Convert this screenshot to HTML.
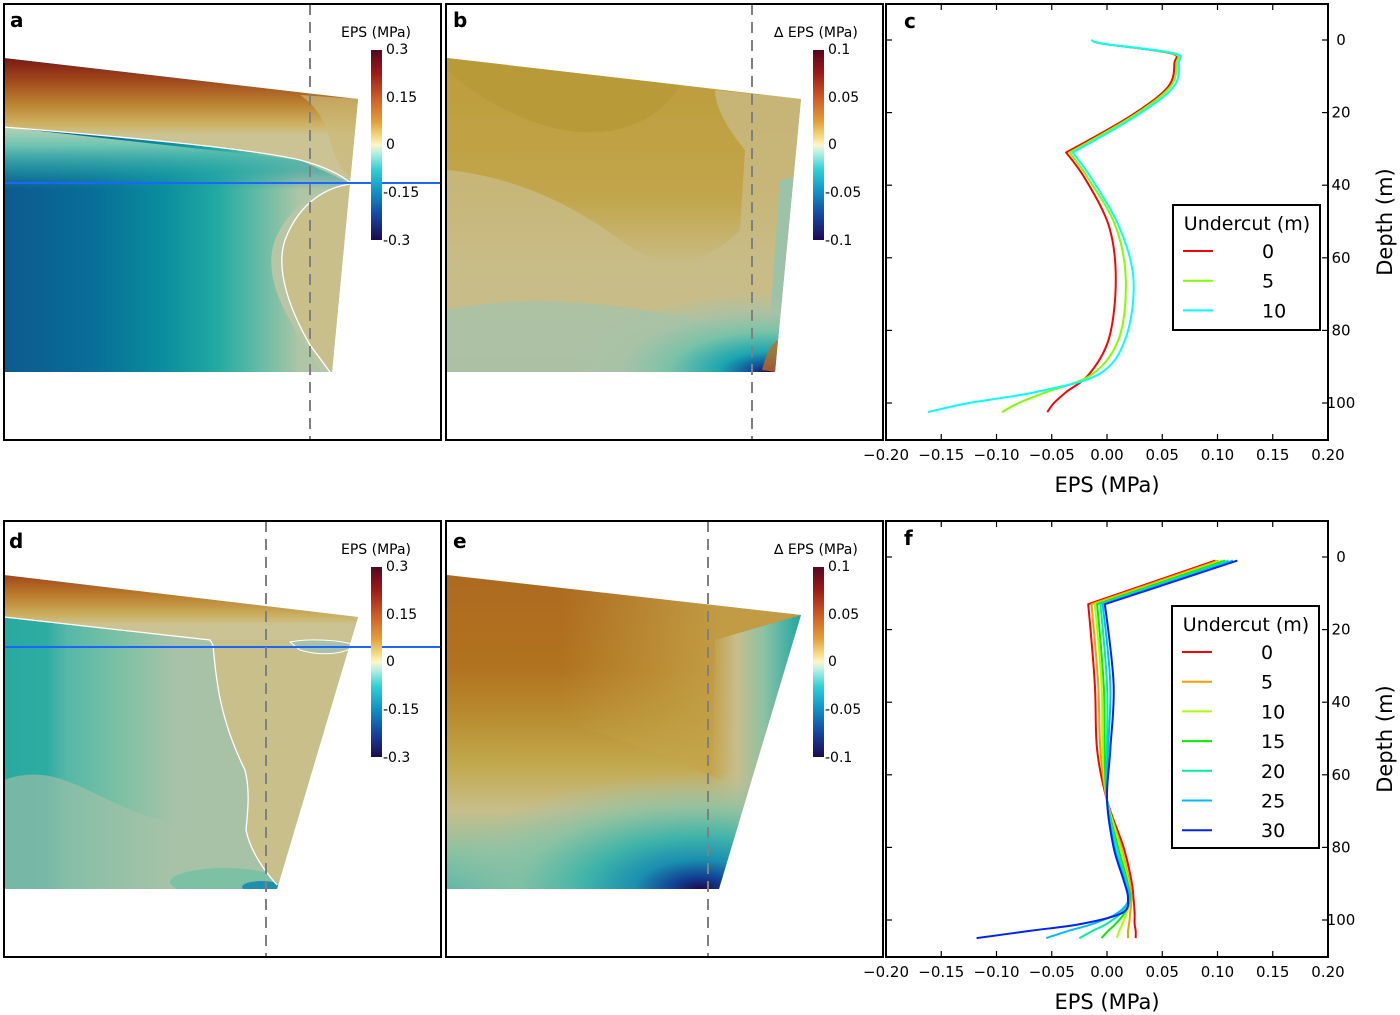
<!DOCTYPE html>
<html><head><meta charset="utf-8"><style>
html,body{margin:0;padding:0;background:#fff;}
svg{display:block;font-family:"DejaVu Sans","Liberation Sans",sans-serif;}
</style></head><body>
<svg id="fig" width="1400" height="1015" viewBox="0 0 1400 1015" xmlns="http://www.w3.org/2000/svg">
<defs>
<linearGradient id="cbar" x1="0" y1="0" x2="0" y2="1">
<stop offset="0" stop-color="#55081e"/><stop offset="0.12" stop-color="#9a1a18"/><stop offset="0.25" stop-color="#cc5a26"/><stop offset="0.38" stop-color="#e3a03a"/><stop offset="0.46" stop-color="#f6de86"/><stop offset="0.5" stop-color="#fdf6c8"/><stop offset="0.54" stop-color="#b6f2e2"/><stop offset="0.63" stop-color="#2ed0d4"/><stop offset="0.75" stop-color="#1090c4"/><stop offset="0.87" stop-color="#1446a0"/><stop offset="1" stop-color="#1c0a50"/>
</linearGradient>
<linearGradient id="aTop" x1="0" y1="58" x2="0" y2="135" gradientUnits="userSpaceOnUse">
<stop offset="0" stop-color="#7a1812"/><stop offset="0.3" stop-color="#a24a1c"/><stop offset="0.6" stop-color="#bb8430"/><stop offset="0.85" stop-color="#cdb061"/><stop offset="1" stop-color="#cbc393"/>
</linearGradient>
<linearGradient id="aLow" x1="4" y1="0" x2="300" y2="0" gradientUnits="userSpaceOnUse">
<stop offset="0" stop-color="#0d5a8e"/><stop offset="0.3" stop-color="#086e98"/><stop offset="0.55" stop-color="#0a8f9e"/><stop offset="0.72" stop-color="#22aaa2"/><stop offset="0.85" stop-color="#5cbba6"/><stop offset="1" stop-color="#aec6a6"/>
</linearGradient>
<linearGradient id="aBand" x1="0" y1="127" x2="0" y2="190" gradientUnits="userSpaceOnUse">
<stop offset="0" stop-color="#b7d2b4"/><stop offset="0.3" stop-color="#6cc4b2"/><stop offset="0.7" stop-color="#28a4a6" stop-opacity="0.6"/><stop offset="1" stop-color="#1c8ca4" stop-opacity="0"/>
</linearGradient>
<linearGradient id="dTop" x1="0" y1="575" x2="0" y2="625" gradientUnits="userSpaceOnUse">
<stop offset="0" stop-color="#a4461a"/><stop offset="0.4" stop-color="#bb7d2c"/><stop offset="0.8" stop-color="#cbaf60"/><stop offset="1" stop-color="#cbc393"/>
</linearGradient>
<linearGradient id="dLow" x1="4" y1="0" x2="215" y2="0" gradientUnits="userSpaceOnUse">
<stop offset="0" stop-color="#28aaa0"/><stop offset="0.2" stop-color="#2eaca2"/><stop offset="0.3" stop-color="#56b8a8"/><stop offset="0.55" stop-color="#7cc1a4"/><stop offset="0.8" stop-color="#a6c2a8"/><stop offset="1" stop-color="#a8c2a8"/>
</linearGradient>
<linearGradient id="bBase" x1="0" y1="58" x2="0" y2="372" gradientUnits="userSpaceOnUse">
<stop offset="0" stop-color="#bd9c3a"/><stop offset="0.45" stop-color="#c2a64c"/><stop offset="0.65" stop-color="#c8bb82"/><stop offset="0.85" stop-color="#c6c08e"/><stop offset="1" stop-color="#b4c2a0"/>
</linearGradient>
<radialGradient id="bBlob" cx="770" cy="372" r="200" gradientUnits="userSpaceOnUse" gradientTransform="translate(770 372) scale(1 0.4) translate(-770 -372)">
<stop offset="0" stop-color="#1a0a55"/><stop offset="0.1" stop-color="#10509a"/><stop offset="0.25" stop-color="#1aa6b0"/><stop offset="0.5" stop-color="#78c2a8"/><stop offset="0.75" stop-color="#a6c2a8" stop-opacity="0.8"/><stop offset="1" stop-color="#a6c2a8" stop-opacity="0"/>
</radialGradient>
<linearGradient id="eBase" x1="0" y1="575" x2="0" y2="889" gradientUnits="userSpaceOnUse">
<stop offset="0" stop-color="#ad6a20"/><stop offset="0.3" stop-color="#b1731f"/><stop offset="0.45" stop-color="#b88c30"/><stop offset="0.6" stop-color="#c2a84c"/><stop offset="0.75" stop-color="#c8be8a"/><stop offset="0.88" stop-color="#8cc2a2"/><stop offset="1" stop-color="#58b8a8"/>
</linearGradient>
<linearGradient id="eLight" x1="560" y1="0" x2="720" y2="0" gradientUnits="userSpaceOnUse">
<stop offset="0" stop-color="#c4a44a" stop-opacity="0"/><stop offset="1" stop-color="#c4a44a" stop-opacity="0.85"/>
</linearGradient>
<linearGradient id="eRight" x1="710" y1="0" x2="800" y2="0" gradientUnits="userSpaceOnUse">
<stop offset="0" stop-color="#c8bc88" stop-opacity="0"/><stop offset="0.3" stop-color="#c8be8c"/><stop offset="0.6" stop-color="#8cc2a4"/><stop offset="1" stop-color="#20a8a4"/>
</linearGradient>
<radialGradient id="eBlob" cx="700" cy="889" r="260" gradientUnits="userSpaceOnUse" gradientTransform="translate(700 889) scale(1 0.45) translate(-700 -889)">
<stop offset="0" stop-color="#1a0a50"/><stop offset="0.1" stop-color="#123e92"/><stop offset="0.25" stop-color="#1a8fb0"/><stop offset="0.45" stop-color="#40b4a8"/><stop offset="0.7" stop-color="#88c2a4" stop-opacity="0.8"/><stop offset="1" stop-color="#a8c2a8" stop-opacity="0"/>
</radialGradient>
<clipPath id="clipA"><path d="M4,58 L358,99 L332,372 L4,372 Z"/></clipPath>
<clipPath id="clipB"><path d="M447,58 L801,99 L775,372 L447,372 Z"/></clipPath>
<clipPath id="clipD"><path d="M4,575 L358,617 L277,889 L4,889 Z"/></clipPath>
<clipPath id="clipE"><path d="M447,575 L801,615 L719,889 L447,889 Z"/></clipPath>
<clipPath id="clipC"><rect x="886" y="4" width="442" height="436"/></clipPath>
<clipPath id="clipF"><rect x="886" y="521" width="442" height="436"/></clipPath>
</defs>

<!-- Panel a -->
<g>
<g clip-path="url(#clipA)">
<rect x="4" y="50" width="360" height="330" fill="url(#aLow)"/>
<path d="M4,127 L300,160 L352,184 L352,200 L4,200 Z" fill="url(#aBand)"/>
<path d="M352,184 C320,188 290,205 275,240 C262,275 285,315 305,345 L322,372 L360,372 L360,184 Z" fill="#b9c6a6"/>
<path d="M352,184 C330,188 300,205 285,240 C275,270 290,310 310,345 L330,372 L360,372 L360,184 Z" fill="#c8bf8a"/>
<path d="M4,58 L358,99 L358,183 C345,178 330,168 300,160 C250,148 100,135 4,127 Z" fill="url(#aTop)"/>
<path d="M300,95 L358,99 L358,183 C345,176 335,160 330,140 C325,120 315,105 300,95 Z" fill="#cbb978" opacity="0.7"/>
<path d="M4,127 C100,135 250,148 300,160 C330,168 345,178 352,184" fill="none" stroke="#fff" stroke-width="1.3"/>
<path d="M352,184 C330,186 300,200 285,240 C275,270 290,310 310,345 L330,372" fill="none" stroke="#fff" stroke-width="1.3"/>
</g>
<line x1="4" y1="183" x2="441" y2="183" stroke="#1a66ff" stroke-width="2"/>
<line x1="310" y1="4" x2="310" y2="440" stroke="#808080" stroke-width="2" stroke-dasharray="11,7"/>
<rect x="4" y="4" width="437" height="436" fill="none" stroke="#000" stroke-width="2"/>
<text x="10" y="27" font-size="20" font-weight="bold">a</text>
<text x="341" y="37" font-size="14">EPS (MPa)</text>
<rect x="371" y="50" width="11" height="190" fill="url(#cbar)"/>
<g font-size="14"><text x="386" y="54">0.3</text><text x="386" y="102">0.15</text><text x="386" y="149">0</text><text x="383" y="197">-0.15</text><text x="383" y="245">-0.3</text></g>
</g>

<!-- Panel b -->
<g>
<g clip-path="url(#clipB)">
<rect x="447" y="50" width="360" height="330" fill="url(#bBase)"/>
<path d="M447,58 L680,85 C660,120 620,135 580,132 C530,128 480,100 447,70 Z" fill="#b89a38"/>
<path d="M447,170 C500,175 560,195 620,240 C660,270 700,270 740,230 L745,150 C720,120 715,100 715,90 L801,99 L801,380 L447,380 Z" fill="#c8bc88" opacity="0.75"/>
<path d="M447,310 C520,295 600,300 700,320 L760,340 L770,372 L447,372 Z" fill="#a8c2a8" opacity="0.85"/>
<path d="M780,180 L801,175 L795,250 L785,330 L770,320 Z" fill="#9cc2a8"/>
<rect x="447" y="50" width="360" height="330" fill="url(#bBlob)"/>
<path d="M762,370 L775,372 L778,340 C770,345 766,355 762,370 Z" fill="#c06a20" opacity="0.8"/>
</g>
<line x1="752" y1="4" x2="752" y2="440" stroke="#808080" stroke-width="2" stroke-dasharray="11,7"/>
<rect x="446" y="4" width="437" height="436" fill="none" stroke="#000" stroke-width="2"/>
<text x="453" y="27" font-size="20" font-weight="bold">b</text>
<text x="774" y="37" font-size="14">∆ EPS (MPa)</text>
<rect x="813" y="50" width="11" height="190" fill="url(#cbar)"/>
<g font-size="14"><text x="828" y="54">0.1</text><text x="828" y="102">0.05</text><text x="828" y="149">0</text><text x="825" y="197">-0.05</text><text x="825" y="245">-0.1</text></g>
</g>

<!-- Panel d -->
<g>
<g clip-path="url(#clipD)">
<rect x="4" y="570" width="360" height="325" fill="url(#dLow)"/>
<path d="M4,780 C60,760 90,800 160,820 C200,840 240,860 270,889 L4,889 Z" fill="#a8c2a8" opacity="0.6"/>
<ellipse cx="225" cy="882" rx="55" ry="14" fill="#7cc1a4"/>
<ellipse cx="262" cy="887" rx="20" ry="6" fill="#1f8fae"/>
<path d="M210,640 L213,645 C216,680 220,720 245,770 C250,790 248,810 246,830 C250,850 262,868 277,885 L360,885 L360,617 Z" fill="#c8bf8a"/>
<path d="M4,575 L358,617 L358,640 C300,640 250,640 210,640 L4,617 Z" fill="url(#dTop)"/>
<path d="M290,642 C310,638 340,640 355,645 C345,655 320,656 300,650 Z" fill="#a8c2a8" stroke="#fff" stroke-width="1"/>
<path d="M4,617 L210,640 L213,645 C216,680 220,720 245,770 C250,790 248,810 246,830 C250,850 262,868 277,885" fill="none" stroke="#fff" stroke-width="1.3"/>
</g>
<line x1="4" y1="647" x2="441" y2="647" stroke="#1a66ff" stroke-width="2"/>
<line x1="266" y1="521" x2="266" y2="957" stroke="#808080" stroke-width="2" stroke-dasharray="11,7"/>
<rect x="4" y="521" width="437" height="436" fill="none" stroke="#000" stroke-width="2"/>
<text x="9" y="548" font-size="20" font-weight="bold">d</text>
<text x="341" y="554" font-size="14">EPS (MPa)</text>
<rect x="371" y="567" width="11" height="190" fill="url(#cbar)"/>
<g font-size="14"><text x="386" y="571">0.3</text><text x="386" y="619">0.15</text><text x="386" y="666">0</text><text x="383" y="714">-0.15</text><text x="383" y="762">-0.3</text></g>
</g>

<!-- Panel e -->
<g>
<g clip-path="url(#clipE)">
<rect x="447" y="570" width="360" height="325" fill="url(#eBase)"/>
<path d="M560,575 L801,615 L801,700 L720,780 C680,760 620,740 560,720 Z" fill="url(#eLight)"/>
<path d="M715,640 L801,615 L719,889 L700,889 L712,790 Z" fill="url(#eRight)"/>
<rect x="447" y="570" width="360" height="325" fill="url(#eBlob)"/>
</g>
<line x1="708" y1="521" x2="708" y2="957" stroke="#808080" stroke-width="2" stroke-dasharray="11,7"/>
<rect x="446" y="521" width="437" height="436" fill="none" stroke="#000" stroke-width="2"/>
<text x="453" y="548" font-size="20" font-weight="bold">e</text>
<text x="774" y="554" font-size="14">∆ EPS (MPa)</text>
<rect x="813" y="567" width="11" height="190" fill="url(#cbar)"/>
<g font-size="14"><text x="828" y="571">0.1</text><text x="828" y="619">0.05</text><text x="828" y="666">0</text><text x="825" y="714">-0.05</text><text x="825" y="762">-0.1</text></g>
</g>

<g id="chartC"></g>
<g id="chartF"></g>
</svg>
<script>
// x ticks and y ticks
const xTicks = [-0.20,-0.15,-0.10,-0.05,0.00,0.05,0.10,0.15,0.20];
const yTicks = [0,20,40,60,80,100];
// Panel c data
const cDepth = [0,1,3.6,6.3,13,21,31,38.6,51.5,66,82,92,97,100,102.5];
const cUndercut0 = [-0.013,-0.004,0.057,0.061,0.055,0.021,-0.037,-0.019,0.002,0.008,0.002,-0.016,-0.037,-0.048,-0.054];
const cUndercut5 = [-0.013,-0.004,0.058,0.063,0.057,0.023,-0.034,-0.016,0.008,0.017,0.011,-0.013,-0.055,-0.080,-0.095];
const cUndercut10 = [-0.013,-0.004,0.060,0.065,0.060,0.026,-0.031,-0.013,0.011,0.024,0.017,-0.007,-0.065,-0.125,-0.162];
const cLabels = ["0","5","10"];
// Panel f data
const fDepth = [1,13,35,53,67,80,89,94,98,101,103,105];
const fUndercut0 = [0.098,-0.017,-0.011,-0.009,0,0.015,0.022,0.024,0.025,0.025,0.026,0.026];
const fUndercut5 = [0.101,-0.014,-0.008,-0.006,0,0.013,0.020,0.022,0.021,0.020,0.019,0.019];
const fUndercut10 = [0.104,-0.011,-0.005,-0.004,0,0.012,0.019,0.021,0.018,0.014,0.011,0.009];
const fUndercut15 = [0.107,-0.009,-0.003,-0.002,0,0.010,0.018,0.021,0.016,0.008,0.001,-0.005];
const fUndercut20 = [0.110,-0.006,0,0,0,0.009,0.017,0.020,0.013,0.000,-0.013,-0.025];
const fUndercut25 = [0.114,-0.004,0.003,0.001,0,0.007,0.016,0.020,0.010,-0.012,-0.035,-0.055];
const fUndercut30 = [0.118,-0.002,0.006,0.003,0,0.006,0.015,0.019,0.014,-0.022,-0.070,-0.118];
const fLabels = ["0","5","10","15","20","25","30"];

const NS="http://www.w3.org/2000/svg";
function mk(parent,tag,attrs){const e=document.createElementNS(NS,tag);for(const k in attrs)e.setAttribute(k,attrs[k]);parent.appendChild(e);return e;}
function smoothPath(P,sharp){
  let d="M"+P[0][0].toFixed(1)+","+P[0][1].toFixed(1);
  for(let i=0;i<P.length-1;i++){
    const p0=P[Math.max(i-1,0)],p1=P[i],p2=P[i+1],p3=P[Math.min(i+2,P.length-1)];
    const t1=sharp.includes(i)?0:1/6, t2=sharp.includes(i+1)?0:1/6;
    const c1=[p1[0]+(p2[0]-p0[0])*t1,p1[1]+(p2[1]-p0[1])*t1];
    const c2=[p2[0]-(p3[0]-p1[0])*t2,p2[1]-(p3[1]-p1[1])*t2];
    d+=" C"+c1[0].toFixed(1)+","+c1[1].toFixed(1)+" "+c2[0].toFixed(1)+","+c2[1].toFixed(1)+" "+p2[0].toFixed(1)+","+p2[1].toFixed(1);
  }
  return d;
}

function drawChart(gid,top,depth,seriesList,colors,labels,clipId,legend,letter,sharp){
  const g=document.getElementById(gid);
  const L=886,R=1328,T=top,B=top+436;
  const xs=v=>L+(v+0.2)/0.4*(R-L);
  const ys=d=>T+36+d*3.63;
  seriesList.forEach((vals,i)=>{
    const P=vals.map((v,j)=>[xs(v),ys(depth[j])]);
    const p=mk(g,"path",{d:smoothPath(P,sharp),fill:"none",stroke:colors[i],"stroke-width":2,"stroke-linejoin":"round","clip-path":"url(#"+clipId+")"});
    
    
  });
  const fr=mk(g,"rect",{x:L,y:T,width:R-L,height:B-T,fill:"none",stroke:"#000","stroke-width":2});
  
  
  xTicks.forEach(t=>{
    const x=xs(t);
    mk(g,"line",{x1:x,y1:B,x2:x,y2:B-6,stroke:"#000","stroke-width":1.2});
    mk(g,"line",{x1:x,y1:T,x2:x,y2:T+6,stroke:"#000","stroke-width":1.2});
    const tx=mk(g,"text",{x:x,y:B+20,"font-size":15,"text-anchor":"middle"});
    tx.textContent=(t<0?"\u2212":"")+Math.abs(t).toFixed(2);
    
    
  });
  yTicks.forEach(t=>{
    const y=ys(t);
    mk(g,"line",{x1:R,y1:y,x2:R-6,y2:y,stroke:"#000","stroke-width":1.2});
    mk(g,"line",{x1:L,y1:y,x2:L+6,y2:y,stroke:"#000","stroke-width":1.2});
    const tx=mk(g,"text",{x:1341,y:y+5,"font-size":15,"text-anchor":"middle"});
    tx.textContent=t;
    
    
  });
  const xt=mk(g,"text",{x:1107,y:B+52,"font-size":21,"text-anchor":"middle"});
  xt.textContent="EPS (MPa)";
  
  
  const yt=mk(g,"text",{x:0,y:0,"font-size":21,"text-anchor":"middle",transform:"translate(1392,"+(T+218)+") rotate(-90)"});
  yt.textContent="Depth (m)";
  
  
  const lt=mk(g,"text",{x:L+18,y:T+24,"font-size":20,"font-weight":"bold"});
  lt.textContent=letter;
  
  
  const lg=mk(g,"g",{});
  
  
  mk(lg,"rect",{x:legend.x,y:legend.y,width:147,height:legend.h,fill:"#fff",stroke:"#000","stroke-width":2});
  const ttl=mk(lg,"text",{x:legend.x+74,y:legend.y+25,"font-size":19,"text-anchor":"middle"});
  ttl.textContent="Undercut (m)";
  labels.forEach((lb,i)=>{
    const y=legend.y+46+i*29.7;
    const ln=mk(lg,"line",{x1:legend.x+10,y1:y,x2:legend.x+40,y2:y,stroke:colors[i],"stroke-width":2});
    
    
    const tx=mk(lg,"text",{x:legend.x+89,y:y+7,"font-size":19});
    tx.textContent=lb;
  });
}
drawChart("chartC",4,cDepth,[cUndercut0,cUndercut5,cUndercut10],["#ff0000","#7fff00","#00ffff"],cLabels,"clipC",{x:1173,y:205,h:125},"c",[0,6]);
drawChart("chartF",521,fDepth,[fUndercut0,fUndercut5,fUndercut10,fUndercut15,fUndercut20,fUndercut25,fUndercut30],["#ff0000","#ff9900","#aaff00","#00ee00","#00ee99","#00bbff","#0022ff"],fLabels,"clipF",{x:1172,y:606,h:242},"f",[0,1]);
</script>
</body></html>
